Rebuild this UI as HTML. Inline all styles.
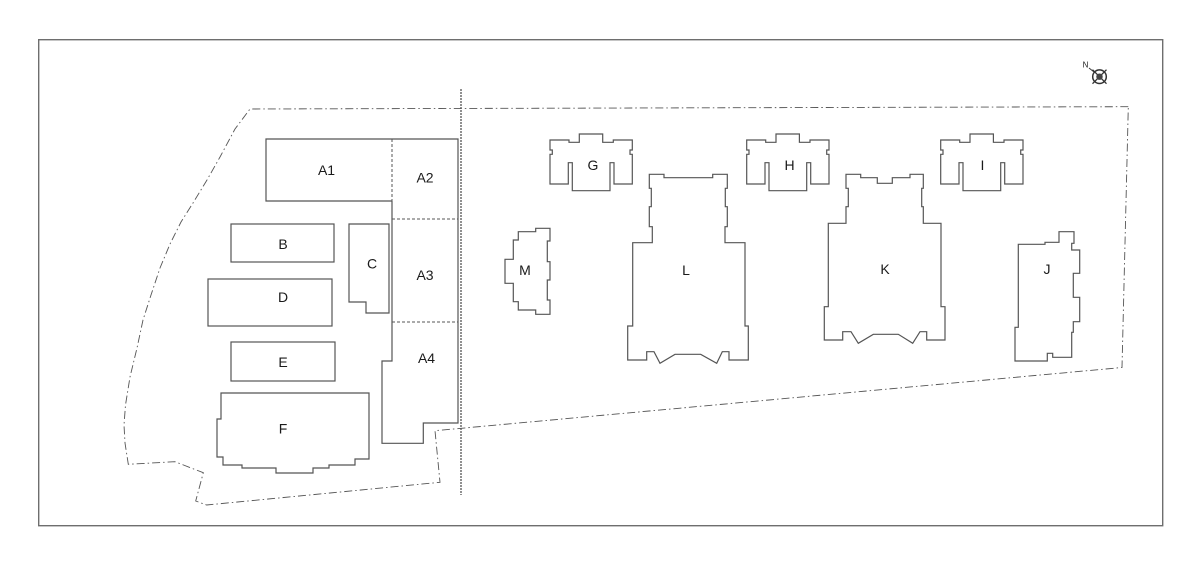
<!DOCTYPE html>
<html>
<head>
<meta charset="utf-8">
<style>
  html, body { margin: 0; padding: 0; background: #ffffff; }
  svg { display: block; }
  text { font-family: "Liberation Sans", Arial, sans-serif; font-size: 14px; fill: #1a1a1a; text-anchor: middle; }
</style>
</head>
<body>
<svg width="1200" height="562" viewBox="0 0 1200 562" xmlns="http://www.w3.org/2000/svg">
  <rect x="0" y="0" width="1200" height="562" fill="#ffffff"/>
  <!-- frame -->
  <rect x="38.7" y="39.7" width="1124" height="486" fill="none" stroke="#6e6e6e" stroke-width="1.4"/>

  <!-- site boundary (dash-dot) -->
  <path d="M1128.3,106.7 L250,109 L235,129 L220,157 L207,180 L193,203 L181,222 L170,244 L160,268 L151,295 L143,320 L137,348 L130,377 L125.5,405 L124,425 L125,443 L128.3,464.3 L175,461.7 L203.3,472.7 L195.7,501 L206.7,505 L440,482.3 L435,430.7 L1122,367.5 Z"
        fill="none" stroke="#555" stroke-width="0.9" stroke-dasharray="8 3 1.5 3"/>

  <!-- vertical dotted divider -->
  <line x1="461" y1="89" x2="461" y2="495" stroke="#555" stroke-width="1.3" stroke-dasharray="2 1"/>

  <g fill="none" stroke="#555" stroke-width="1.2">
    <!-- A1 -->
    <polyline points="392,139 266,139 266,201 392,201"/>
    <line x1="392" y1="139" x2="392" y2="201" stroke-dasharray="3 2" stroke-width="1"/>
    <!-- A block -->
    <polyline points="392,201 392,361 382,361 382,443.3 423.3,443.3 423.3,423 458,423 458,139 392,139"/>
    <line x1="392" y1="219" x2="458" y2="219" stroke-dasharray="3 2" stroke-width="1"/>
    <line x1="392" y1="322" x2="458" y2="322" stroke-dasharray="3 2" stroke-width="1"/>

    <!-- B -->
    <rect x="231" y="224" width="103" height="38"/>
    <!-- C -->
    <polygon points="349,224 389,224 389,313 366,313 366,302 349,302"/>
    <!-- D -->
    <rect x="208" y="279" width="124" height="47"/>
    <!-- E -->
    <rect x="231" y="342" width="104" height="39"/>
    <!-- F -->
    <polygon points="221,393 369,393 369,459 355,459 355,465 329,465 329,468 313,468 313,473 276,473 276,468 242,468 242,465 223,465 223,457 217,457 217,419 221,419"/>

    <!-- G -->
    <polygon points="550,140 569,140 569,142.3 579.3,142.3 579.3,134 602.7,134 602.7,142.3 613.3,142.3 613.3,140 632.3,140 632.3,150 630,150 630,154.3 632.3,154.3 632.3,184 614,184 614,162.7 610,162.7 610,190.7 572.3,190.7 572.3,162.7 568.3,162.7 568.3,184 550,184 550,154.3 552.3,154.3 552.3,150 550,150"/>
    <!-- H -->
    <g transform="translate(196.7,0)">
      <polygon points="550,140 569,140 569,142.3 579.3,142.3 579.3,134 602.7,134 602.7,142.3 613.3,142.3 613.3,140 632.3,140 632.3,150 630,150 630,154.3 632.3,154.3 632.3,184 614,184 614,162.7 610,162.7 610,190.7 572.3,190.7 572.3,162.7 568.3,162.7 568.3,184 550,184 550,154.3 552.3,154.3 552.3,150 550,150"/>
    </g>
    <!-- I -->
    <g transform="translate(390.7,0)">
      <polygon points="550,140 569,140 569,142.3 579.3,142.3 579.3,134 602.7,134 602.7,142.3 613.3,142.3 613.3,140 632.3,140 632.3,150 630,150 630,154.3 632.3,154.3 632.3,184 614,184 614,162.7 610,162.7 610,190.7 572.3,190.7 572.3,162.7 568.3,162.7 568.3,184 550,184 550,154.3 552.3,154.3 552.3,150 550,150"/>
    </g>

    <!-- L -->
    <polygon points="649.3,174.3 664,174.3 664,177.7 712.7,177.7 712.7,174.3 727.3,174.3 727.3,188.3 725.3,188.3 725.3,206.7 727.3,206.7 727.3,226.7 725,226.7 725,242.7 745,242.7 745,326 748.3,326 748.3,360 729,360 729,351.7 722.3,351.7 716.7,363.3 700.7,354.3 675,354.3 660,363.3 654,351.7 646.7,351.7 646.7,360 627.7,360 627.7,326 632.7,326 632.7,242.7 652.3,242.7 652.3,226.7 649.3,226.7 649.3,206.7 651.3,206.7 651.3,188.3 649.3,188.3"/>

    <!-- K -->
    <polygon points="846,174.3 860.7,174.3 860.7,177.7 877.3,177.7 877.3,183.3 892.3,183.3 892.3,177.7 910,177.7 910,174.3 923.3,174.3 923.3,188.3 921.7,188.3 921.7,206.7 923.3,206.7 923.3,223.3 941,223.3 941,306.7 945,306.7 945,340 926.7,340 926.7,331.7 920,331.7 912.7,343.3 898.3,334.3 873.3,334.3 858.3,343.3 851,331.7 842.7,331.7 842.7,340 824.3,340 824.3,306.7 828.3,306.7 828.3,223.3 846,223.3 846,206.7 848.3,206.7 848.3,188.3 846,188.3"/>

    <!-- M -->
    <polygon points="535.7,228.3 550,228.3 550,241 547.3,241 547.3,261.7 550,261.7 550,280 547.3,280 547.3,300 550,300 550,314.3 535.7,314.3 535.7,310 518.3,310 518.3,301.7 513.3,301.7 513.3,283.3 505,283.3 505,259.3 513.3,259.3 513.3,240 518.3,240 518.3,231.7 535.7,231.7"/>

    <!-- J -->
    <polygon points="1018.3,244.3 1045,244.3 1045,242.3 1059,242.3 1059,231.7 1074,231.7 1074,243.3 1071.7,243.3 1071.7,250 1079.7,250 1079.7,273.3 1073.3,273.3 1073.3,297.3 1079.7,297.3 1079.7,321.7 1073.3,321.7 1073.3,332.3 1071.7,332.3 1071.7,357.3 1052.7,357.3 1052.7,353.3 1047.3,353.3 1047.3,361 1015,361 1015,327.3 1018.3,327.3"/>
  </g>

  <!-- compass -->
  <g stroke="#333" fill="none">
    <line x1="1089" y1="68" x2="1094" y2="72" stroke-width="0.9"/>
    <circle cx="1099.5" cy="76.7" r="6.8" stroke-width="1.5"/>
    <line x1="1092.5" y1="69.7" x2="1106.5" y2="83.7" stroke-width="1.3"/>
    <line x1="1106.5" y1="69.7" x2="1092.5" y2="83.7" stroke-width="1.3"/>
    <circle cx="1099.5" cy="76.7" r="3.2" fill="#444" stroke="none"/>
  </g>
  <text x="1085.5" y="67.5" style="font-size:8px;">N</text>

  <!-- labels -->
  <text x="326.5" y="175">A1</text>
  <text x="425" y="182.5">A2</text>
  <text x="283" y="249">B</text>
  <text x="372" y="268.5">C</text>
  <text x="425" y="280">A3</text>
  <text x="283" y="302">D</text>
  <text x="283" y="367">E</text>
  <text x="283" y="433.5">F</text>
  <text x="426.5" y="363">A4</text>
  <text x="593" y="170">G</text>
  <text x="789.5" y="170">H</text>
  <text x="982.5" y="170">I</text>
  <text x="686" y="275">L</text>
  <text x="885" y="274">K</text>
  <text x="525" y="275">M</text>
  <text x="1047" y="274">J</text>
</svg>
</body>
</html>
